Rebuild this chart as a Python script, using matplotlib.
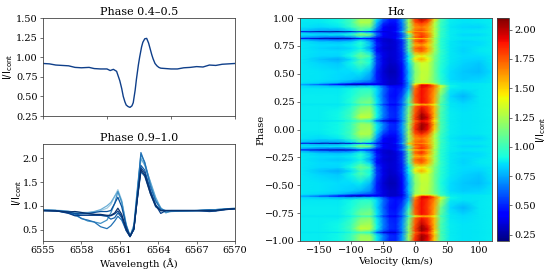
import numpy as np
import matplotlib
matplotlib.use("Agg")
import matplotlib.pyplot as plt

plt.rcParams['font.family'] = 'DejaVu Serif'
plt.rcParams['mathtext.fontset'] = 'dejavusans'

# top left spectrum
wave_top = [6555, 6555.5, 6556, 6556.5, 6557, 6557.5, 6558, 6558.6, 6559, 6559.5, 6560, 6560.25, 6560.5, 6560.75, 6561, 6561.15, 6561.27, 6561.4, 6561.5, 6561.65,
            6561.8, 6561.95, 6562.05, 6562.2, 6562.3, 6562.45, 6562.55, 6562.7, 6562.8, 6562.95, 6563.1, 6563.25, 6563.35, 6563.5, 6563.6, 6563.75, 6563.9, 6564.05, 6564.2, 6564.6, 6565, 6565.5, 6566,
            6566.5, 6567, 6567.5, 6568, 6568.5, 6569, 6569.5, 6570]
flux_top = [.92, .915, .90, .895, .89, .87, .865, .87, .855, .85, .85, .83, .845, .82, .70, .60, .50, .43, .39, .37,
            .36, .38, .42, .58, .72, .90, 1.00, 1.13, 1.19, 1.235, 1.24, 1.18, 1.12, 1.03, .98, .92, .89, .87, .86, .855, .85, .85, .865, .87, .88, .875, .90, .895, .91, .915, .92]

# bottom left spectra
wave_bot = [6555, 6556, 6557, 6557.5, 6558, 6558.5, 6559, 6559.5, 6560, 6560.3, 6560.6, 6560.85, 6561.15, 6561.5, 6561.8,
            6562.1, 6562.35, 6562.65, 6562.95, 6563.4, 6563.8, 6564.2, 6564.6, 6565, 6566, 6567, 6568, 6568.5, 6569, 6570]
spec_a = [.92, .91, .89, .86, .85, .85, .87, .90, .95, 1.03, 1.20, 1.34, 1.12, .62, .37, .55, 1.25, 1.98, 1.88, 1.48, 1.15, .96, .88, .89, .89, .90, .91, .92, .93, .95]
spec_b = [.91, .90, .87, .80, .74, .68, .66, .63, .70, .85, 1.05, 1.30, 1.08, .58, .36, .60, 1.30, 2.08, 1.92, 1.45, 1.12, .95, .86, .88, .89, .90, .91, .92, .93, .94]
spec_c = [.91, .90, .88, .83, .73, .70, .66, .56, .52, .58, .68, .78, .70, .48, .36, .50, 1.20, 2.12, 1.90, 1.40, 1.10, .93, .90, .90, .90, .90, .91, .91, .92, .94]
spec_d = [.90, .90, .85, .80, .84, .83, .82, .80, .78, .72, .75, .85, .75, .50, .35, .52, 1.15, 1.85, 1.75, 1.32, 1.02, .90, .90, .90, .90, .90, .91, .90, .92, .94]
spec_e = [.90, .89, .87, .88, .86, .84, .82, .82, .80, .80, .85, .95, .82, .52, .36, .52, 1.12, 1.76, 1.65, 1.25, 1.00, .90, .90, .90, .90, .90, .90, .90, .92, .94]
spec_f = [.90, .90, .84, .79, .80, .80, .80, .80, .79, .79, .83, .89, .78, .48, .35, .52, 1.10, 1.80, 1.70, 1.30, 1.02, .84, .90, .90, .90, .90, .88, .89, .91, .94]
spec_g = [.90, .89, .86, .84, .83, .84, .86, .88, .88, .90, 1.05, 1.18, .98, .58, .36, .50, 1.10, 1.72, 1.62, 1.25, .98, .90, .90, .90, .90, .90, .89, .90, .92, .94]
spec_h = [.91, .90, .88, .87, .86, .86, .88, .92, 1.00, 1.07, 1.20, 1.30, 1.08, .60, .36, .55, 1.22, 2.00, 1.85, 1.50, 1.18, .95, .85, .90, .90, .90, .92, .92, .93, .95]
spectra = [spec_a, spec_h, spec_b, spec_c, spec_d, spec_g, spec_f, spec_e]
spec_colors = ['#9ecae1', '#6baed6', '#4292c6', '#2171b5', '#1361a9', '#08519c', '#08408a', '#08306b']

# Halpha dynamic spectrum, one cycle, repeated below phase 0
velocity = [-180, -150, -120, -100, -85, -70, -60, -50, -40, -30, -20, -10, 0, 10, 20, 30, 40, 55, 75, 100, 120]
phase = [0.00, 0.05, 0.07, 0.08, 0.09, 0.11, 0.15, 0.21, 0.225, 0.24, 0.30, 0.37, 0.395, 0.405, 0.415, 0.425, 0.45,
         0.52, 0.60, 0.63, 0.66, 0.70, 0.73, 0.76, 0.79, 0.812, 0.82, 0.828, 0.85, 0.872, 0.88, 0.888, 0.92, 0.96, 1.00]
map_rows = [
    [.88, .88, .90, 1.00, 1.22, 1.25, .88, .65, .50, .50, .72, 1.20, 1.85, 2.05, 1.90, 1.50, 1.03, .88, .86, .87, .88],
    [.88, .88, .90, 1.00, 1.22, 1.20, .88, .68, .52, .50, .72, 1.25, 1.80, 2.05, 1.95, 1.55, 1.03, .88, .86, .87, .88],
    [.88, .88, .90, .98, 1.10, 1.05, .78, .58, .46, .46, .70, 1.20, 1.75, 1.95, 1.85, 1.50, 1.03, .88, .86, .87, .88],
    [.87, .87, .87, .92, 1.02, .95, .60, .34, .32, .34, .62, 1.15, 1.70, 1.90, 1.85, 1.45, 1.00, .88, .86, .87, .88],
    [.88, .88, .90, .98, 1.15, 1.08, .78, .58, .46, .46, .70, 1.20, 1.80, 2.02, 1.90, 1.50, 1.03, .88, .86, .87, .88],
    [.88, .88, .90, 1.02, 1.32, 1.28, .90, .66, .52, .50, .70, 1.20, 1.80, 2.08, 1.95, 1.55, 1.03, .88, .86, .87, .88],
    [.88, .88, .90, 1.00, 1.22, 1.25, .90, .68, .52, .50, .70, 1.15, 1.75, 2.00, 1.85, 1.55, 1.03, .88, .86, .87, .88],
    [.88, .88, .88, .95, 1.12, 1.15, .88, .66, .50, .48, .66, 1.10, 1.72, 1.88, 1.80, 1.55, 1.08, .87, .85, .87, .88],
    [.87, .87, .87, .90, 1.00, 1.00, .78, .55, .42, .40, .58, .95, 1.35, 1.55, 1.55, 1.40, 1.00, .87, .85, .87, .88],
    [.88, .88, .88, .95, 1.12, 1.15, .88, .66, .50, .48, .66, 1.10, 1.72, 1.90, 1.82, 1.58, 1.08, .87, .83, .87, .88],
    [.88, .88, .88, .92, 1.02, 1.05, .83, .62, .47, .45, .58, .95, 1.75, 1.90, 1.80, 1.60, 1.12, .84, .77, .87, .88],
    [.87, .87, .87, .90, .95, .95, .85, .65, .50, .45, .50, .78, 1.70, 1.90, 1.82, 1.65, 1.28, .88, .86, .87, .88],
    [.84, .80, .76, .73, .76, .78, .73, .57, .44, .40, .45, .74, 1.60, 1.95, 1.92, 1.72, 1.38, .90, .86, .87, .88],
    [.75, .60, .42, .30, .28, .36, .40, .36, .32, .34, .42, .76, 1.45, 1.90, 1.88, 1.55, 1.10, .88, .86, .87, .88],
    [.84, .78, .62, .50, .46, .46, .42, .36, .32, .32, .36, .74, 1.35, 1.45, 1.45, 1.30, 1.00, .88, .86, .87, .88],
    [.87, .84, .80, .73, .66, .60, .50, .36, .32, .32, .40, .76, 1.22, 1.28, 1.25, 1.15, .98, .87, .85, .85, .87],
    [.87, .86, .84, .82, .78, .70, .48, .36, .32, .32, .42, .80, 1.18, 1.32, 1.28, 1.12, .96, .85, .82, .83, .87],
    [.87, .86, .85, .85, .88, .78, .48, .34, .28, .30, .42, .78, 1.15, 1.30, 1.30, 1.12, .93, .85, .81, .79, .85],
    [.87, .83, .81, .90, 1.05, .92, .55, .38, .32, .33, .46, .85, 1.22, 1.35, 1.32, 1.12, .96, .87, .83, .81, .87],
    [.87, .80, .76, .85, 1.00, .90, .52, .36, .32, .35, .50, .90, 1.45, 1.60, 1.42, 1.15, .96, .87, .84, .83, .87],
    [.87, .84, .83, .92, 1.12, 1.00, .55, .38, .33, .35, .48, .87, 1.30, 1.42, 1.32, 1.15, .96, .87, .85, .85, .87],
    [.87, .85, .85, .88, .98, .85, .45, .36, .33, .35, .50, 1.00, 1.62, 1.72, 1.55, 1.22, .98, .87, .83, .87, .88],
    [.87, .83, .81, .84, .90, .72, .45, .34, .32, .35, .52, 1.05, 1.72, 1.80, 1.60, 1.25, .96, .87, .83, .87, .88],
    [.87, .85, .85, .88, .95, .80, .50, .36, .33, .35, .52, 1.05, 1.55, 1.62, 1.50, 1.22, .96, .87, .85, .85, .88],
    [.87, .81, .79, .82, .92, .75, .45, .34, .32, .35, .50, 1.05, 1.72, 1.85, 1.62, 1.28, .96, .87, .83, .85, .88],
    [.75, .62, .58, .62, .75, .62, .42, .34, .32, .37, .56, 1.10, 1.68, 1.78, 1.60, 1.25, .96, .88, .86, .87, .88],
    [.40, .30, .26, .30, .44, .44, .38, .34, .35, .44, .76, 1.35, 1.45, 1.55, 1.50, 1.22, .96, .88, .86, .87, .88],
    [.75, .66, .62, .68, .85, .72, .48, .38, .37, .42, .60, 1.10, 1.75, 1.85, 1.68, 1.28, .98, .88, .86, .87, .88],
    [.87, .85, .87, .95, 1.20, 1.12, .65, .42, .37, .38, .58, 1.05, 1.62, 1.80, 1.68, 1.30, .98, .88, .84, .84, .88],
    [.81, .75, .75, .82, .95, .85, .58, .40, .37, .40, .65, 1.40, 1.78, 1.78, 1.62, 1.30, .98, .88, .86, .87, .88],
    [.37, .27, .24, .30, .50, .46, .40, .34, .37, .48, .82, 1.55, 1.60, 1.62, 1.55, 1.28, .98, .88, .86, .87, .88],
    [.81, .75, .75, .85, 1.05, .90, .60, .42, .38, .42, .66, 1.25, 1.70, 1.78, 1.62, 1.30, 1.00, .88, .86, .87, .88],
    [.87, .84, .87, .98, 1.12, 1.10, .72, .44, .37, .40, .65, 1.20, 1.62, 1.68, 1.60, 1.28, .98, .87, .84, .83, .88],
    [.87, .87, .90, 1.02, 1.28, 1.25, .80, .54, .46, .46, .68, 1.25, 1.75, 1.85, 1.72, 1.30, 1.00, .88, .86, .87, .88],
    [.88, .88, .90, 1.00, 1.22, 1.25, .88, .65, .50, .50, .72, 1.20, 1.85, 2.05, 1.90, 1.50, 1.03, .88, .86, .87, .88],
]
phase = np.array(phase)
map_rows = np.array(map_rows)
all_phase = np.concatenate([phase[:-1] - 1, phase])
all_rows = np.vstack([map_rows[:-1], map_rows])

W, H = 550, 272
fig = plt.figure(figsize=(W / 100, H / 100), dpi=100)

def axes_px(x0, y0, x1, y1):
    return fig.add_axes([x0 / W, 1 - y1 / H, (x1 - x0) / W, (y1 - y0) / H])

tick_size = 7.0
label_size = 7.2
title_size = 8.0

ax1 = axes_px(43, 18, 235, 116)
ax1.plot(wave_top, flux_top, color='#0f3f8a', lw=1.0)
ax1.set_xlim(6555, 6570)
ax1.set_ylim(0.25, 1.5)
ax1.set_xticks([6555, 6560, 6565, 6570])
ax1.set_xticklabels([])
ax1.set_yticks([0.25, 0.5, 0.75, 1.0, 1.25, 1.5])
ax1.set_yticklabels(['0.25', '0.50', '0.75', '1.00', '1.25', '1.50'])
ax1.set_ylabel(r'I/I$_{\rm cont}$', fontsize=label_size, family='DejaVu Sans', labelpad=0.5)
ax1.set_title('Phase 0.4\u20130.5', fontsize=title_size, pad=2)

ax2 = axes_px(43, 144, 235, 241)
for s, c in zip(spectra, spec_colors):
    ax2.plot(wave_bot, s, color=c, lw=0.9)
ax2.set_xlim(6555, 6570)
ax2.set_ylim(0.26, 2.3)
ax2.set_xticks([6555, 6558, 6561, 6564, 6567, 6570])
ax2.set_yticks([0.5, 1.0, 1.5, 2.0])
ax2.set_xlabel('Wavelength (\u00c5)', fontsize=label_size, labelpad=2.5)
ax2.set_ylabel(r'I/I$_{\rm cont}$', fontsize=label_size, family='DejaVu Sans', labelpad=-1)
ax2.set_title('Phase 0.9\u20131.0', fontsize=title_size, pad=2)

ax3 = axes_px(300, 18, 492, 241)
mesh = ax3.pcolormesh(velocity, all_phase, all_rows, cmap='jet', vmin=0.196, vmax=2.1, shading='gouraud')
ax3.set_xlim(-180, 120)
ax3.set_ylim(-1, 1)
ax3.set_xticks([-150, -100, -50, 0, 50, 100])
ax3.set_yticks(np.arange(-1, 1.01, 0.25))
ax3.set_xlabel('Velocity (km/s)', fontsize=label_size, labelpad=1)
ax3.set_ylabel('Phase', fontsize=label_size, labelpad=-0.5)
ax3.set_title(r'H$\alpha$', fontsize=title_size, pad=2, math_fontfamily='dejavuserif')

cax = axes_px(497, 18, 509, 241)
cb = fig.colorbar(mesh, cax=cax)
cb.set_ticks([0.25, 0.5, 0.75, 1.0, 1.25, 1.5, 1.75, 2.0])
cb.set_label(r'I/I$_{\rm cont}$', fontsize=label_size, family='DejaVu Sans', labelpad=-1)

for ax in [ax1, ax2, ax3, cax]:
    ax.tick_params(labelsize=tick_size, length=2.2, width=0.5, pad=1.5, color='#333333')
    for s in ax.spines.values():
        s.set_linewidth(0.6)
        s.set_color('#444444')

fig.savefig('out.png', dpi=100)
